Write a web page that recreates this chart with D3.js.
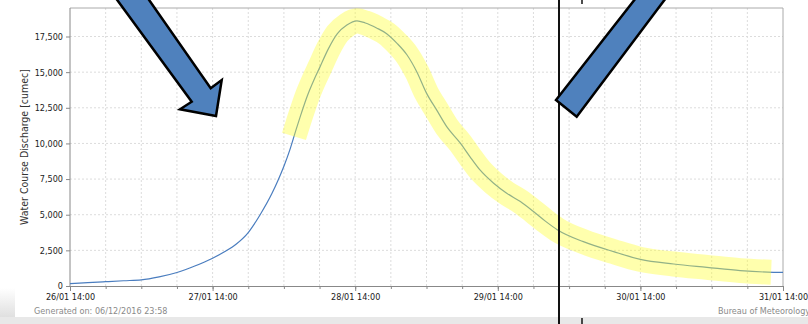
<!DOCTYPE html>
<html>
<head>
<meta charset="utf-8">
<script src="https://cdn.jsdelivr.net/npm/d3@7"></script>
<style>
  body { margin: 0; background: #fff; }
  svg { display: block; font-family: "DejaVu Sans Condensed", "DejaVu Sans", sans-serif; }
</style>
</head>
<body>
<svg id="chart" width="808" height="324"></svg>
<script>
// hours after 26/01 14:00, discharge in cumec
var hours = [0, 3, 6, 9, 12, 15, 18, 21, 24, 26, 28, 30, 32, 34, 35, 36, 37, 38, 39, 40, 41,
    42, 43.5, 45, 46.6, 48.3, 49.7, 51.6, 53.3, 55, 56.7, 58.4, 60, 61.7, 63.4, 65.7, 67.3, 69,
    71.3, 73.5, 75.8, 78, 80, 82, 86.4, 91.5, 96, 101.6, 107.2, 112.8, 118.4, 120];
var discharge = [170, 230, 300, 370, 430, 640, 950, 1400, 1950, 2400, 2950, 3750, 5000, 6500,
    7400, 8400, 9550, 10900, 12200, 13400, 14400, 15300, 16650, 17700, 18300, 18600, 18450,
    18100, 17700, 17040, 16220, 15000, 13530, 12350, 11180, 10020, 9080, 8140, 7210, 6510,
    5920, 5220, 4550, 3950, 3110, 2410, 1870, 1545, 1310, 1080, 960, 950];
var yTicks = [0, 2500, 5000, 7500, 10000, 12500, 15000, 17500];
var dayTickHours = [0, 24, 48, 72, 96, 120];
var highlightFrom = 37.7, highlightTo = 118;
var markerHour = 82.3;

// annotation shapes drawn over the screenshot (pixel space)
var arrowDown = [[115, -3], [147, -3], [210.7, 88.3], [221.7, 80], [216, 116], [180, 109.3], [191.7, 101.7]];
var arrowUp = [[636.7, -3], [666.7, -3], [576.7, 116.7], [556, 100]];

var start = new Date(2016, 0, 26, 14, 0);
function atHour(h) { return new Date(start.getTime() + h * 3600e3); }
var data = hours.map((h, i) => ({ t: atHour(h), h: h, v: discharge[i] }));

var svg = d3.select("#chart");
var mLeft = 70, mRight = 783, mTop = 8, mBottom = 286;

var x = d3.scaleTime().domain([atHour(0), atHour(120)]).range([mLeft, mRight]);
var y = d3.scaleLinear().domain([0, 19500]).range([mBottom, mTop]);

// background bits of the screenshot
var defs = svg.append("defs");
var shade = defs.append("linearGradient").attr("id", "shade")
    .attr("x1", "0").attr("y1", "0").attr("x2", "0").attr("y2", "1");
shade.append("stop").attr("offset", "0%").attr("stop-color", "#fff");
shade.append("stop").attr("offset", "100%").attr("stop-color", "#d8d8d8");
svg.append("rect").attr("x", 0).attr("y", 288).attr("width", 15).attr("height", 36).attr("fill", "url(#shade)");
svg.append("rect").attr("x", 0).attr("y", 317).attr("width", 808).attr("height", 7).attr("fill", "#e8e8e8");

// grid
var sixHours = d3.range(0, 121, 6).map(atHour);
svg.append("g").selectAll("line").data(sixHours.slice(1, -1)).enter().append("line")
    .attr("x1", d => x(d)).attr("x2", d => x(d))
    .attr("y1", mTop).attr("y2", mBottom)
    .attr("stroke", "#dcdcdc").attr("stroke-dasharray", "2,2");
svg.append("g").selectAll("line").data(yTicks.slice(1)).enter().append("line")
    .attr("x1", mLeft).attr("x2", mRight)
    .attr("y1", d => y(d)).attr("y2", d => y(d))
    .attr("stroke", "#dcdcdc").attr("stroke-dasharray", "2,2");

// frame
svg.append("line").attr("x1", mLeft).attr("x2", mRight).attr("y1", mTop).attr("y2", mTop).attr("stroke", "#aaa");
svg.append("line").attr("x1", mRight).attr("x2", mRight).attr("y1", mTop).attr("y2", mBottom).attr("stroke", "#aaa");

// axes
var xAxis = svg.append("g").attr("transform", "translate(0," + mBottom + ")")
    .call(d3.axisBottom(x).tickValues(sixHours).tickSize(3).tickFormat(""));
xAxis.selectAll("path, line").attr("stroke", "#888");
var xMajor = svg.append("g").attr("transform", "translate(0," + mBottom + ")")
    .call(d3.axisBottom(x).tickValues(dayTickHours.map(atHour)).tickSize(5).tickPadding(3)
        .tickFormat(d3.timeFormat("%d/%m %H:%M")));
xMajor.select(".domain").remove();
xMajor.selectAll("line").attr("stroke", "#888");
xMajor.selectAll("text").attr("font-size", "9px").attr("fill", "#1a1a1a")
    .attr("font-family", "DejaVu Sans Condensed");

var yAxis = svg.append("g").attr("transform", "translate(" + mLeft + ",0)")
    .call(d3.axisLeft(y).tickValues(yTicks).tickSize(4).tickPadding(3).tickFormat(d3.format(",")));
yAxis.select(".domain").attr("d", "M0," + mTop + "V" + mBottom);
yAxis.selectAll("path, line").attr("stroke", "#888");
yAxis.selectAll("text").attr("font-size", "9px").attr("fill", "#222")
    .attr("font-family", "DejaVu Sans Condensed");

svg.append("text")
    .attr("transform", "translate(28," + ((mTop + mBottom) / 2) + ") rotate(-90)")
    .attr("text-anchor", "middle")
    .attr("font-size", "10.5px").attr("fill", "#333")
    .text("Water Course Discharge [cumec]");

// series
var line = d3.line().x(d => x(d.t)).y(d => y(d.v)).curve(d3.curveMonotoneX);
svg.append("path").datum(data).attr("d", line)
    .attr("fill", "none").attr("stroke", "#4a7dbf").attr("stroke-width", 1.2);

// hand-drawn highlighter over the recession
function interp(h) {
    var i = d3.bisectLeft(hours, h);
    var a = data[i - 1], b = data[i], k = (h - a.h) / (b.h - a.h);
    return { t: atHour(h), h: h, v: a.v + k * (b.v - a.v) };
}
var band = [interp(highlightFrom)]
    .concat(data.filter(d => d.h > highlightFrom && d.h < highlightTo), [interp(highlightTo)]);
svg.append("path").datum(band)
    .attr("d", line)
    .attr("fill", "none").attr("stroke", "#ffff33").attr("stroke-opacity", 0.4)
    .attr("stroke-width", 25).attr("stroke-linejoin", "round").attr("stroke-linecap", "butt");

// footer texts
svg.append("text").attr("x", 34).attr("y", 314).attr("font-size", "9px").attr("fill", "#8a8a8a")
    .text("Generated on: 06/12/2016 23:58");
svg.append("text").attr("x", 718).attr("y", 314).attr("font-size", "9px").attr("fill", "#8a8a8a")
    .text("Bureau of Meteorology");

// annotations
var mx = x(atHour(markerHour));
svg.append("line").attr("x1", mx).attr("x2", mx).attr("y1", 0).attr("y2", 324)
    .attr("stroke", "#111").attr("stroke-width", 2);
svg.append("line").attr("x1", mx + 23).attr("x2", mx + 23).attr("y1", 0).attr("y2", 4)
    .attr("stroke", "#111").attr("stroke-width", 1.5);
svg.append("line").attr("x1", mx + 23).attr("x2", mx + 23).attr("y1", 318).attr("y2", 324)
    .attr("stroke", "#111").attr("stroke-width", 1.5);

[arrowDown, arrowUp].forEach(pts => {
    svg.append("polygon")
        .attr("points", pts.map(p => p.join(",")).join(" "))
        .attr("fill", "#4f81bd").attr("stroke", "#000").attr("stroke-width", 2.5)
        .attr("stroke-linejoin", "miter");
});
</script>
</body>
</html>
